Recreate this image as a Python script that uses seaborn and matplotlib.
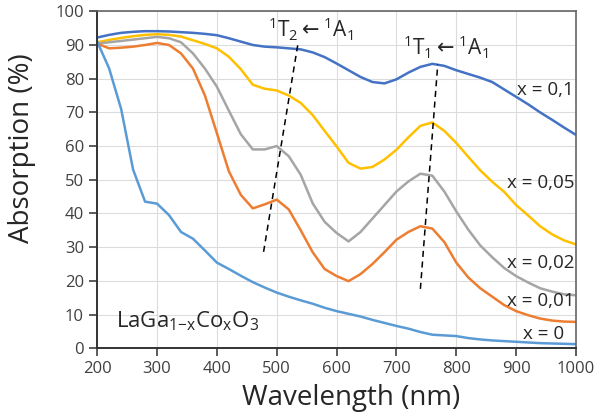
import seaborn as sns
import matplotlib.pyplot as plt
import numpy as np
import pandas as pd

# wavelength grid (nm)
wl = list(range(200, 1001, 20))

# absorption (%)
abs_x010 = [92.2, 93.0, 93.6, 93.9, 94.1, 94.1, 94.0, 93.8, 93.6, 93.3, 92.9, 92.0, 91.0, 90.0,
            89.5, 89.3, 89.0, 88.7, 87.8, 86.4, 84.5, 82.5, 80.5, 79.0, 78.6, 79.8, 81.8, 83.5,
            84.4, 83.8, 82.5, 81.4, 80.3, 79.0, 76.8, 74.6, 72.4, 70.0, 67.8, 65.5, 63.3]
abs_x005 = [90.8, 91.5, 92.1, 92.6, 93.0, 93.2, 93.0, 92.5, 91.4, 90.3, 89.0, 86.5, 82.8, 78.2,
            77.0, 76.5, 75.0, 72.8, 69.2, 64.5, 59.9, 55.0, 53.3, 53.8, 56.0, 58.9, 62.6, 66.0,
            67.0, 64.5, 60.9, 56.8, 52.8, 49.4, 46.4, 42.5, 39.4, 36.2, 33.8, 32.0, 30.8]
abs_x002 = [90.4, 90.8, 91.2, 91.6, 92.0, 92.4, 92.0, 90.8, 87.5, 83.0, 77.6, 70.5, 63.5, 59.0,
            59.0, 60.0, 57.0, 51.5, 43.0, 37.5, 34.2, 31.7, 34.5, 38.5, 42.5, 46.5, 49.5, 51.8,
            51.2, 46.5, 40.6, 35.2, 30.5, 27.0, 23.8, 21.4, 19.5, 17.8, 16.8, 16.0, 15.7]
abs_x001 = [90.4, 89.0, 89.2, 89.5, 90.0, 90.6, 90.0, 87.5, 83.0, 75.0, 63.8, 52.5, 45.5, 41.5,
            42.7, 44.1, 41.2, 35.0, 28.5, 23.5, 21.4, 19.9, 22.0, 25.0, 28.5, 32.2, 34.5, 36.2,
            35.5, 31.5, 25.4, 21.0, 17.8, 15.3, 12.8, 11.0, 9.8, 8.8, 8.2, 7.9, 7.8]
abs_x000 = [91.0, 83.0, 71.0, 53.0, 43.5, 42.9, 39.5, 34.5, 32.5, 29.0, 25.4, 23.5, 21.5, 19.6,
            18.0, 16.5, 15.3, 14.2, 13.2, 12.0, 11.0, 10.2, 9.4, 8.4, 7.5, 6.6, 5.8, 4.8,
            4.0, 3.8, 3.6, 3.0, 2.6, 2.3, 2.1, 1.9, 1.7, 1.5, 1.4, 1.3, 1.2]

series = ["x = 0,1", "x = 0,05", "x = 0,02", "x = 0,01", "x = 0"]
colors = ["#4472C4", "#FFC000", "#A5A5A5", "#ED7D31", "#5B9BD5"]
label_y = [76.6, 49.0, 25.4, 13.9, 4.1]

# dashed guide lines for the two transitions
t2_x, t2_y = [478, 535], [28.6, 89.9]
t1_x, t1_y = [740, 769], [17.6, 84.2]

df = pd.DataFrame({
    "wl": wl * 5,
    "abs": abs_x010 + abs_x005 + abs_x002 + abs_x001 + abs_x000,
    "sample": sum([[s] * len(wl) for s in series], []),
})

sns.set_theme(style="whitegrid")
plt.rcParams["font.family"] = ["Open Sans", "DejaVu Sans"]

fig, ax = plt.subplots(figsize=(6, 4.18), dpi=100)
fig.subplots_adjust(left=0.162, right=0.96, bottom=0.167, top=0.973)

sns.lineplot(data=df, x="wl", y="abs", hue="sample", palette=dict(zip(series, colors)),
             linewidth=1.8, legend=False, ax=ax)

ax.plot(t2_x, t2_y, ls=(0, (4, 3)), color="black", lw=1.1)
ax.plot(t1_x, t1_y, ls=(0, (4, 3)), color="black", lw=1.1)

ax.text(556, 94.6, r"$^{\mathregular{1}}$T$_{\mathregular{2}}$$\leftarrow$$^{\mathregular{1}}$A$_{\mathregular{1}}$",
        fontsize=15, ha="center", va="center")
ax.text(782, 89.2, r"$^{\mathregular{1}}$T$_{\mathregular{1}}$$\leftarrow$$^{\mathregular{1}}$A$_{\mathregular{1}}$",
        fontsize=15, ha="center", va="center")
for s, y in zip(series, label_y):
    ax.text(997 if s != "x = 0" else 980, y, s, fontsize=13.5, ha="right", va="center")
ax.text(232, 8.0, r"LaGa$_{\mathregular{1{-}x}}$Co$_{\mathregular{x}}$O$_{\mathregular{3}}$",
        fontsize=16, ha="left", va="center")

ax.set_xlim(200, 1000)
ax.set_ylim(0, 100)
ax.set_xticks(range(200, 1001, 100))
ax.set_yticks(range(0, 101, 10))
ax.set_xlabel("Wavelength (nm)", fontsize=20)
ax.set_ylabel("Absorption (%)", fontsize=20)
ax.xaxis.set_label_coords(0.53, -0.105)
ax.yaxis.set_label_coords(-0.127, 0.595)
ax.tick_params(axis="both", labelsize=12, labelcolor="#404040", direction="out",
               length=6, width=1.2, color="#404040", bottom=True, left=True)
ax.grid(color="#dcdcdc", lw=0.8)
for side in ["left", "bottom"]:
    ax.spines[side].set_color("#333333")
    ax.spines[side].set_linewidth(1.4)
for side in ["top", "right"]:
    ax.spines[side].set_color("#666666")
    ax.spines[side].set_linewidth(1.2)

fig.savefig("out.png", dpi=100)
